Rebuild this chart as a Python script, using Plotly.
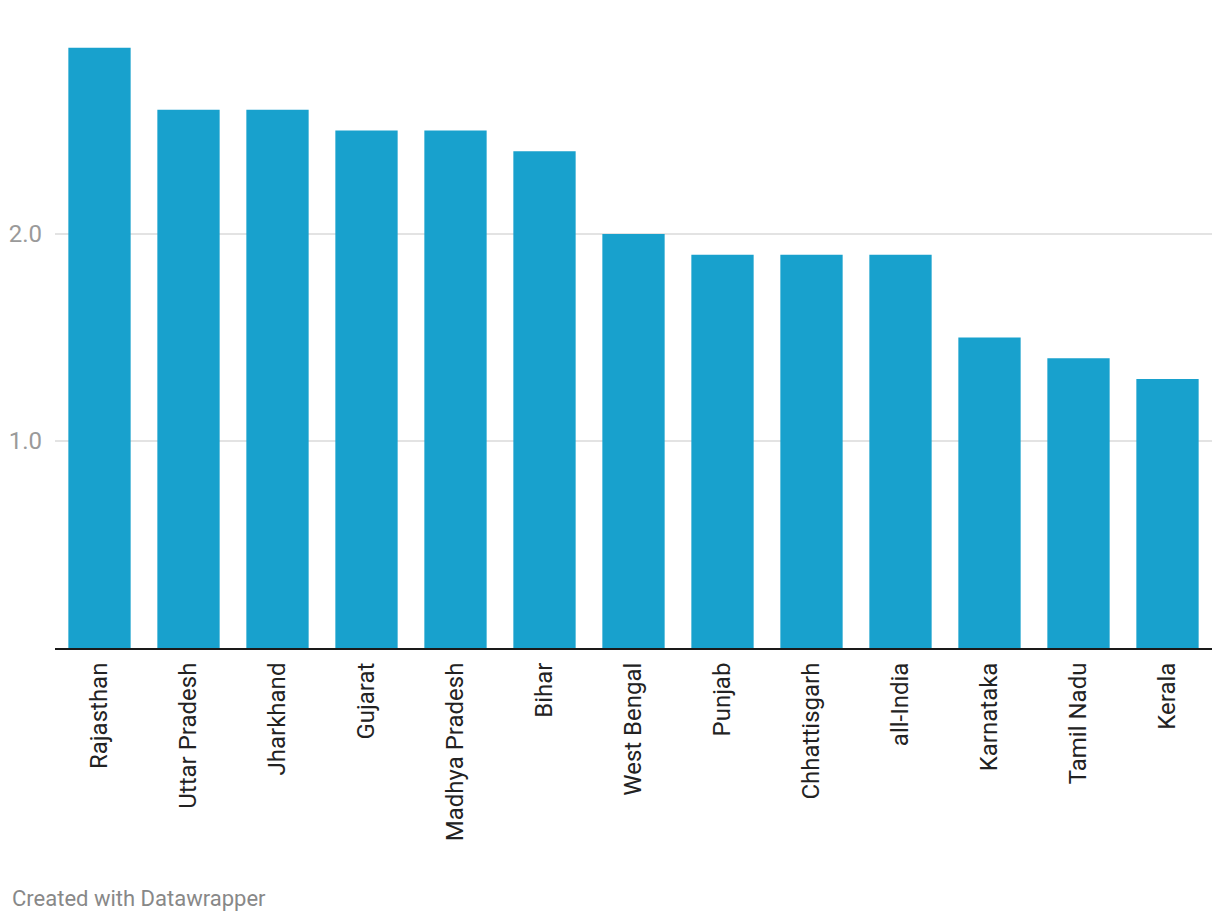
import plotly.graph_objects as go

states = ["Rajasthan", "Uttar Pradesh", "Jharkhand", "Gujarat", "Madhya Pradesh", "Bihar",
          "West Bengal", "Punjab", "Chhattisgarh", "all-India", "Karnataka", "Tamil Nadu", "Kerala"]
values = [2.9, 2.6, 2.6, 2.5, 2.5, 2.4, 2.0, 1.9, 1.9, 1.9, 1.5, 1.4, 1.3]
tick_vals = [1, 2]
tick_text = ["1.0", "2.0"]

fig = go.Figure(go.Bar(x=states, y=values, marker=dict(color="#18a1cd", line=dict(width=0)),
                       hoverinfo="x+y"))

fig.update_layout(
    width=1220, height=924,
    margin=dict(l=47, r=16, t=32, b=284),
    paper_bgcolor="white", plot_bgcolor="white",
    font=dict(family="Roboto", size=24, color="#333333"),
    bargap=0.30,
    showlegend=False,
    xaxis=dict(showline=True, linecolor="#1a1a1a", linewidth=2, tickangle=-90,
               ticks="", ticklabelstandoff=3, tickfont=dict(size=24, color="#222222"),
               showgrid=False, fixedrange=True, automargin=False),
    yaxis=dict(range=[0, 2.937], tickvals=tick_vals, ticktext=tick_text,
               showgrid=True, gridcolor="#e3e3e3", gridwidth=1.5, zeroline=False,
               ticks="", ticklabelstandoff=12, tickfont=dict(size=24, color="#9a9a9a"),
               showline=False, fixedrange=True, automargin=False),
    annotations=[dict(text="Created with Datawrapper", xref="paper", yref="paper",
                      x=0, xshift=-45, xanchor="left", y=-250/608, yanchor="middle",
                      showarrow=False, font=dict(size=22, color="#888888"))],
)

fig.write_html("out.html")
